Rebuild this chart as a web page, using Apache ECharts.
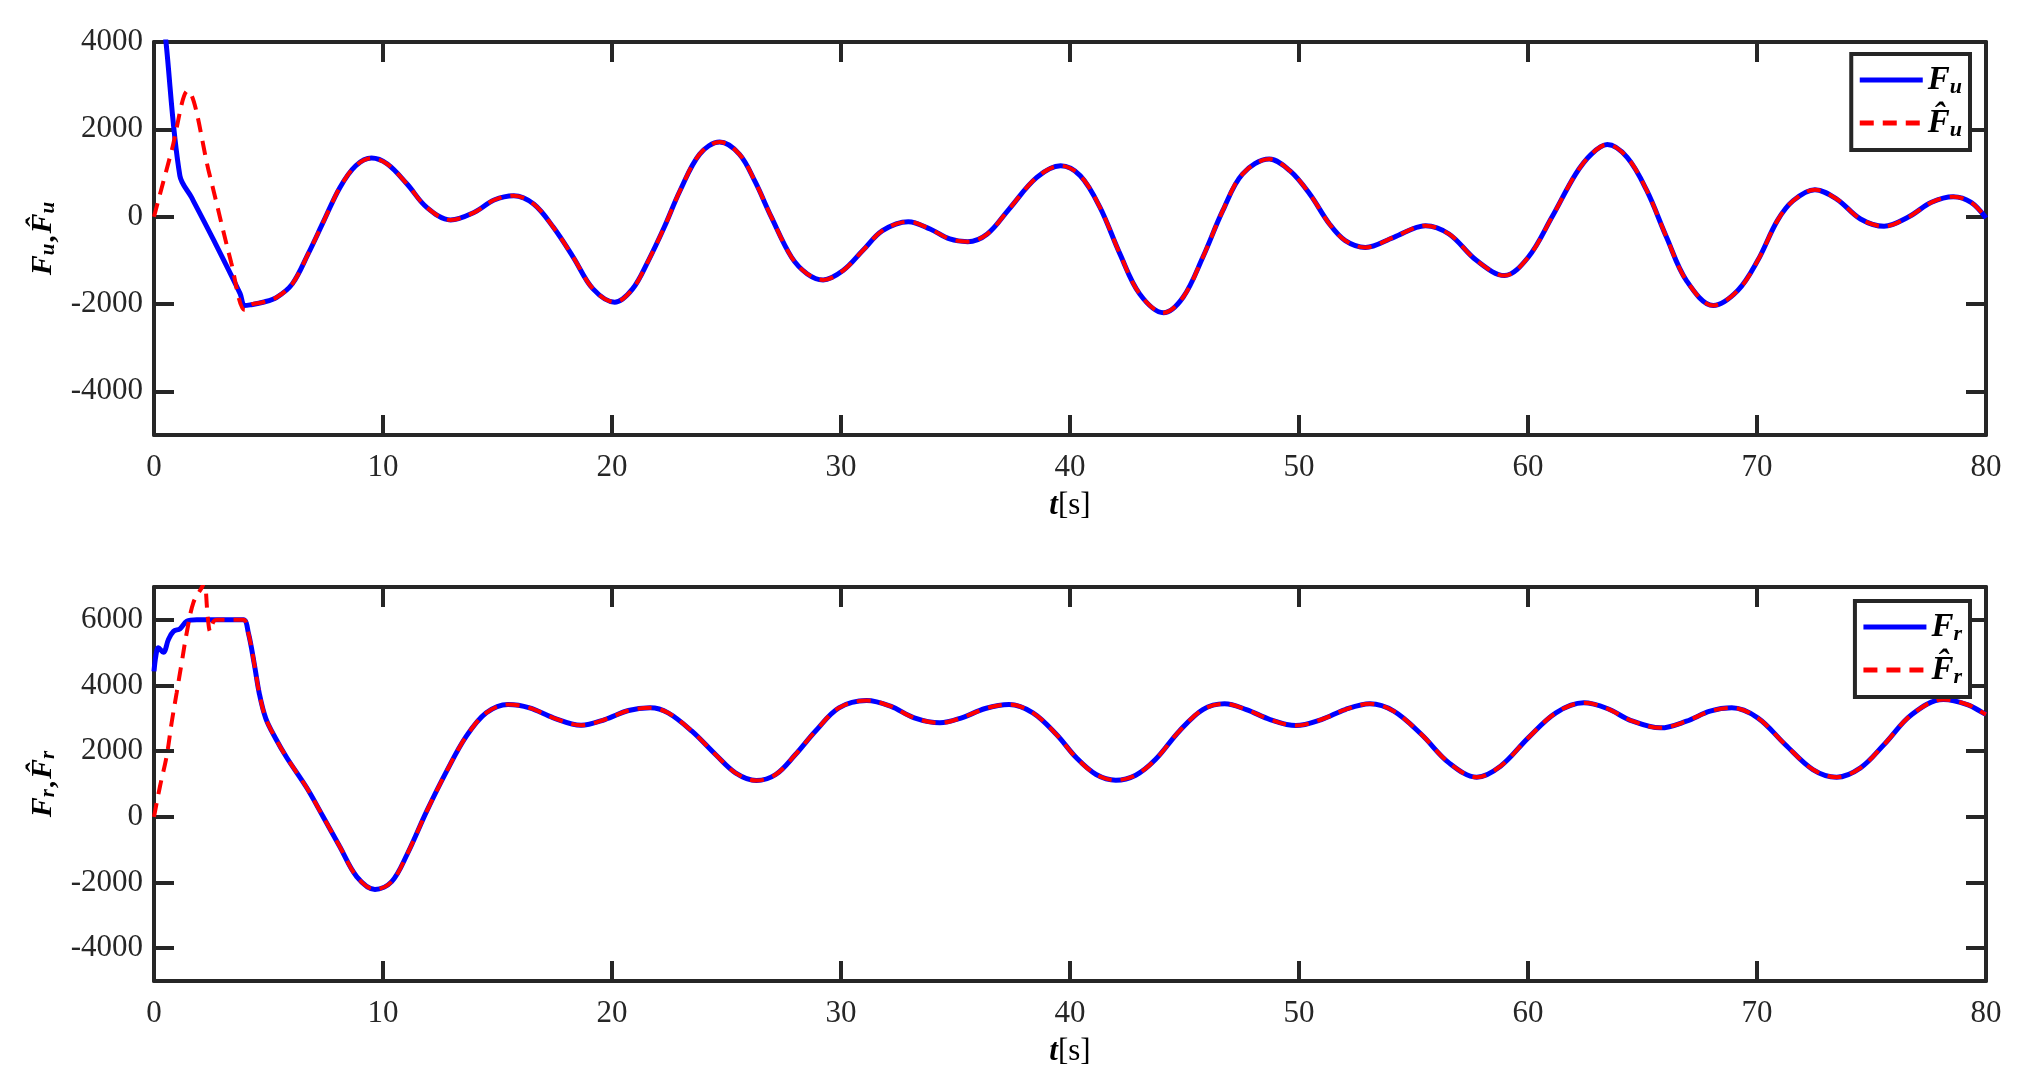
<!DOCTYPE html>
<html>
<head>
<meta charset="utf-8">
<script src="https://cdn.jsdelivr.net/npm/echarts@6/dist/echarts.min.js"></script>
<style>html,body{margin:0;padding:0;background:#fff;}#c{width:2028px;height:1084px;}</style>
</head>
<body>
<div id="c"></div>
<script>
// ---------- data ----------
const xTicks = [0, 10, 20, 30, 40, 50, 60, 70, 80];
const yTicksTop = [-4000, -2000, 0, 2000, 4000];
const yTicksBottom = [-4000, -2000, 0, 2000, 4000, 6000];

// top panel: F_u (blue) start, F_u-hat (red) start, shared remainder
const fuHeadT = [0, 0.52, 1.13, 1.64, 2.59, 3.76, 3.95];
const fuHeadV = [6700, 4020, 937, 440, -520, -1762, -2036];
const fuHatHeadT = [0, 0.77, 1.47, 2.42, 3.37, 3.97];
const fuHatHeadV = [0, 1509, 2880, 975, -1050, -2140];
const fuTailT = [4.2, 4.76, 5.36, 6.04, 6.73, 7.42, 8.12, 8.81, 9.5, 10.19, 11.05, 11.91, 12.95, 13.99, 14.85, 15.71, 16.58, 17.44, 18.31, 19.17, 20.12, 20.9, 21.59, 22.28, 22.97, 23.83, 24.7, 25.56, 26.25, 26.95, 27.84, 28.53, 29.22, 30.09, 30.95, 31.81, 32.94, 33.89, 34.75, 35.53, 36.39, 37.34, 38.55, 39.59, 40.45, 41.31, 42.18, 43.04, 44.08, 44.94, 45.8, 46.67, 47.53, 48.7, 49.6, 50.47, 51.33, 52.02, 52.9, 54.14, 55.52, 56.55, 57.76, 58.97, 60.01, 61.04, 62.08, 62.77, 63.46, 64.33, 65.19, 66.05, 66.92, 68.09, 69.16, 70.03, 70.89, 71.58, 72.53, 73.48, 74.52, 75.55, 76.59, 77.62, 78.57, 79.35, 80];
const fuTailV = [-2020, -1960, -1846, -1539, -853, -91, 670, 1166, 1341, 1204, 747, 213, -76, 99, 381, 480, 290, -244, -930, -1654, -1958, -1654, -1006, -244, 594, 1433, 1710, 1433, 800, 0, -930, -1311, -1448, -1234, -777, -320, -114, -282, -511, -572, -396, 175, 899, 1166, 937, 213, -853, -1768, -2200, -1844, -930, 137, 975, 1318, 1052, 518, -168, -549, -705, -472, -206, -396, -1006, -1349, -930, -15, 975, 1433, 1650, 1356, 594, -472, -1463, -2035, -1692, -1006, -91, 366, 617, 404, -53, -221, -15, 328, 457, 328, -30];

// bottom panel: F_r (blue) start, F_r-hat (red) start, shared remainder
const frHeadT = [0, 0.08, 0.19, 0.41, 0.63, 0.85, 1.14, 1.43, 1.87, 2.9];
const frHeadV = [4430, 4900, 5150, 5010, 5400, 5650, 5730, 5955, 6000, 6000];
const frHatHeadT = [0, 0.26, 0.55, 0.77, 0.99, 1.21, 1.43, 1.72, 2.1, 2.2, 2.35, 2.45, 2.6, 2.75, 2.9];
const frHatHeadV = [0, 924, 1839, 2866, 3780, 4695, 5610, 6524, 7000, 7150, 6060, 5650, 5950, 6000, 6000];
const frTailT = [3.9, 4.12, 4.38, 4.6, 4.88, 5.3, 5.8, 6.67, 7.38, 8.11, 8.85, 9.65, 10.38, 11.05, 11.91, 12.78, 13.64, 14.51, 15.46, 16.4, 17.44, 18.65, 19.69, 20.72, 21.67, 22.45, 23.49, 24.52, 25.39, 26.3, 27.15, 28.01, 28.88, 29.91, 31.12, 32.16, 33.2, 34.32, 35.27, 36.3, 37.34, 38.38, 39.41, 40.28, 41.14, 42.0, 42.87, 43.73, 44.77, 45.8, 46.75, 47.7, 48.74, 49.86, 50.98, 52.02, 53.1, 54.14, 55.35, 56.55, 57.76, 58.8, 60.01, 61.22, 62.43, 63.46, 64.5, 65.79, 66.92, 67.95, 68.9, 70.03, 71.23, 72.44, 73.48, 74.52, 75.55, 76.76, 78.14, 79.18, 79.87, 80];
const frTailV = [6000, 5600, 4650, 3750, 3000, 2400, 1800, 884, 10, -904, -1819, -2210, -1972, -1147, 173, 1391, 2456, 3167, 3421, 3319, 3015, 2791, 2964, 3238, 3319, 3167, 2609, 1898, 1340, 1106, 1289, 1898, 2609, 3319, 3542, 3370, 3015, 2862, 3015, 3299, 3421, 3167, 2507, 1797, 1289, 1117, 1269, 1746, 2609, 3268, 3441, 3268, 2964, 2781, 2964, 3268, 3441, 3218, 2507, 1644, 1208, 1543, 2406, 3167, 3471, 3299, 2933, 2710, 2913, 3218, 3319, 3015, 2203, 1441, 1208, 1492, 2203, 3116, 3573, 3421, 3167, 3120];

// ---------- build ----------
function zip(t, v) { return t.map((x, i) => [x, v[i]]); }
const fu = zip(fuHeadT, fuHeadV).concat(zip(fuTailT, fuTailV));
const fuHat = zip(fuHatHeadT, fuHatHeadV).concat(zip(fuTailT, fuTailV));
const fr = zip(frHeadT, frHeadV).concat(zip(frTailT, frTailV));
const frHat = zip(frHatHeadT, frHatHeadV).concat(zip(frTailT, frTailV));

const INK = '#262626';
const SERIF = "'Liberation Serif', 'DejaVu Serif', serif";
const HAT = 'F\u0302';
const DASH = [14, 9];

const mathRich = {
  F: { fontFamily: SERIF, fontStyle: 'italic', fontWeight: 'bold', fontSize: 30, color: '#000', lineHeight: 30 },
  s: { fontFamily: SERIF, fontStyle: 'italic', fontWeight: 'bold', fontSize: 21, color: '#000', lineHeight: 18, padding: [12, 0, 0, 0] },
  c: { fontFamily: SERIF, fontWeight: 'bold', fontSize: 28, color: '#000', lineHeight: 22, padding: [8, 2, 0, 1] },
  t: { fontFamily: SERIF, fontStyle: 'italic', fontWeight: 'bold', fontSize: 31, color: '#000', lineHeight: 34 },
  n: { fontFamily: SERIF, fontSize: 31, color: '#000', lineHeight: 34 }
};
const legRich = {
  F: { fontFamily: SERIF, fontStyle: 'italic', fontWeight: 'bold', fontSize: 33, color: '#000', lineHeight: 28 },
  s: { fontFamily: SERIF, fontStyle: 'italic', fontWeight: 'bold', fontSize: 22, color: '#000', lineHeight: 14, padding: [14, 0, 0, 0] }
};
const legNames = { Fu: '{F|F}{s|u}', FuHat: '{F|' + HAT + '}{s|u}', Fr: '{F|F}{s|r}', FrHat: '{F|' + HAT + '}{s|r}' };

function xAxes(grid) {
  const common = {
    gridIndex: grid, type: 'value', min: 0, max: 80, interval: 10,
    axisLine: { show: true, onZero: false, lineStyle: { color: INK, width: 4 } },
    axisTick: { show: true, inside: true, length: 20, lineStyle: { color: INK, width: 4 } },
    splitLine: { show: false }
  };
  return [
    Object.assign({}, common, {
      position: 'bottom',
      axisLabel: { show: true, fontFamily: SERIF, fontSize: 31, color: INK, margin: 17, formatter: v => String(v) },
      name: '{t|t}{n|[s]}', nameLocation: 'middle', nameGap: 54, nameMoveOverlap: false,
      nameTextStyle: { rich: mathRich }
    }),
    Object.assign({}, common, { position: 'top', axisLabel: { show: false } })
  ];
}
function yAxes(grid, mn, mx, ticks, name) {
  const common = {
    gridIndex: grid, type: 'value', min: mn, max: mx,
    axisLine: { show: true, onZero: false, lineStyle: { color: INK, width: 4 } },
    axisTick: { show: true, inside: true, length: 20, customValues: ticks, lineStyle: { color: INK, width: 4 } },
    splitLine: { show: false }
  };
  return [
    Object.assign({}, common, {
      position: 'left',
      axisLabel: { show: true, fontFamily: SERIF, fontSize: 31, color: INK, margin: 11, customValues: ticks, formatter: v => String(v) },
      name: name, nameLocation: 'middle', nameGap: 96, nameRotate: 90, nameMoveOverlap: false,
      nameTextStyle: { rich: mathRich }
    }),
    Object.assign({}, common, { position: 'right', axisLabel: { show: false } })
  ];
}

function legendAt(top, names) {
  return {
    data: [
      { name: names[0], lineStyle: { width: 5, type: 'solid' } },
      { name: names[1], lineStyle: { width: 5, type: DASH } }
    ],
    orient: 'vertical', right: 58, top: top,
    itemWidth: 63, itemHeight: 28, itemGap: 7, itemTextGap: 5,
    padding: [8, 8, 9, 6],
    borderColor: INK, borderWidth: 4, borderRadius: 0, backgroundColor: '#fff',
    itemStyle: { opacity: 0 },
    formatter: n => legNames[n],
    textStyle: { rich: legRich },
    selectedMode: false
  };
}

function line(name, data, xi, yi, color, width, dash, z) {
  return {
    name: name, type: 'line', xAxisIndex: xi, yAxisIndex: yi, data: data,
    symbol: 'none', showSymbol: false, smooth: 0.35, clip: true, animation: false, z: z,
    itemStyle: { color: color },
    lineStyle: { color: color, width: width, type: dash }
  };
}

const chart = echarts.init(document.getElementById('c'), null, { renderer: 'canvas' });
chart.setOption({
  backgroundColor: '#fff',
  animation: false,
  grid: [
    { left: 154, top: 42, width: 1832, height: 393, outerBoundsMode: 'none', containLabel: false },
    { left: 154, top: 587, width: 1832, height: 394, outerBoundsMode: 'none', containLabel: false }
  ],
  xAxis: xAxes(0).concat(xAxes(1)),
  yAxis: yAxes(0, -5000, 4000, yTicksTop, '{F|F}{s|u}{c|,}{F|' + HAT + '}{s|u}')
    .concat(yAxes(1, -5000, 7000, yTicksBottom, '{F|F}{s|r}{c|,}{F|' + HAT + '}{s|r}')),
  legend: [legendAt(54, ['Fu', 'FuHat']), legendAt(601, ['Fr', 'FrHat'])],
  series: [
    line('Fu', fu, 0, 0, '#0000ff', 5, 'solid', 2),
    line('FuHat', fuHat, 0, 0, '#ff0000', 4, DASH, 3),
    line('Fr', fr, 2, 2, '#0000ff', 5, 'solid', 2),
    line('FrHat', frHat, 2, 2, '#ff0000', 4, DASH, 3)
  ]
});
</script>
</body>
</html>
